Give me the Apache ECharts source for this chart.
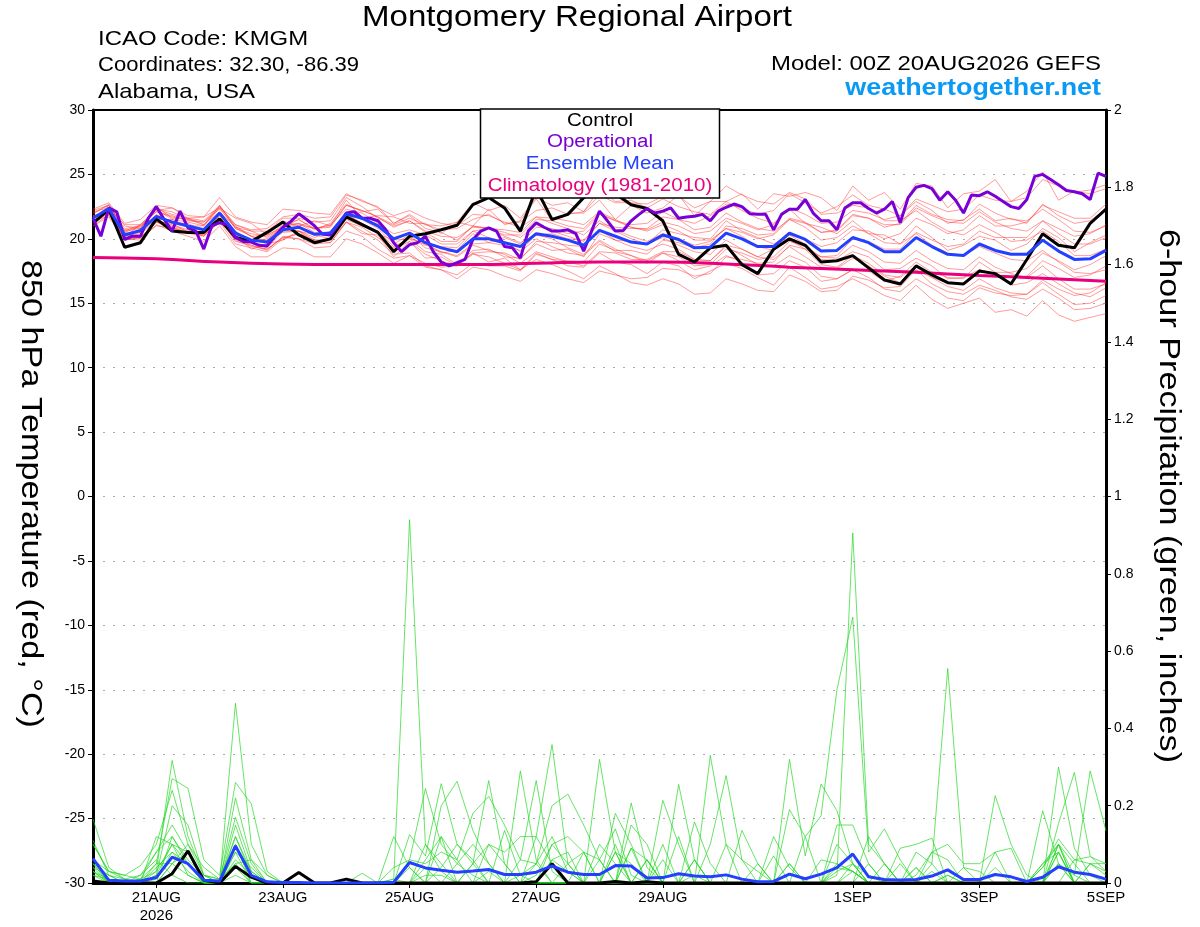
<!DOCTYPE html>
<html>
<head>
<meta charset="utf-8">
<title>Montgomery Regional Airport - GEFS</title>
<script src="https://cdn.jsdelivr.net/npm/echarts@6/dist/echarts.min.js"></script>
<style>
    html, body { margin: 0; padding: 0; background: #fff; }
    #chart { width: 1200px; height: 927px; }
</style>
</head>
<body>
<div id="chart"></div>
<script>
/* ============================================================
   GEFS meteogram - 850 hPa temperature + 6-hour precipitation
   ============================================================ */

// 时间轴：00Z 20AUG2026 起，3 小时一格（129 格）
const RUN_START = Date.UTC(2026, 7, 20, 0);
const STEPS_3H = 129;
const MONTHS = ['JAN', 'FEB', 'MAR', 'APR', 'MAY', 'JUN', 'JUL', 'AUG', 'SEP', 'OCT', 'NOV', 'DEC'];
const xTickLabels = ['21AUG', '23AUG', '25AUG', '27AUG', '29AUG', '1SEP', '3SEP', '5SEP'];
const yearLabel = '2026';

// 温度 (°C)，6 小时一个值
const tempCtrl = [21.2, 22.3, 19.35, 19.7, 21.55, 20.6, 20.5, 20.5,
    21.55, 20.1, 19.8, 20.5, 21.3, 20.3, 19.7, 20.0,
    21.7, 21.1, 20.5, 19.0, 20.2, 20.4, 20.7, 21.05,
    22.65, 23.2, 22.4, 20.6, 23.9, 21.5, 21.9, 23.2,
    23.8, 23.5, 22.65, 22.35, 21.4, 18.8, 18.2, 19.3,
    19.5, 18.0, 17.3, 19.2, 20.0, 19.5, 18.2, 18.3,
    18.7, 17.75, 16.8, 16.5, 17.9, 17.2, 16.6, 16.5,
    17.5, 17.3, 16.5, 18.4, 20.4, 19.5, 19.3, 21.2,
    22.3];

const tempMean = [21.6, 22.35, 20.3, 20.65, 21.75, 21.3, 21.0, 20.7,
    22.0, 20.45, 19.9, 19.75, 20.7, 20.9, 20.35, 20.45,
    21.95, 21.6, 21.0, 20.0, 20.45, 19.7, 19.3, 19.0,
    20.0, 20.0, 19.7, 19.4, 20.4, 20.2, 19.9, 19.5,
    20.65, 20.2, 19.75, 19.6, 20.3, 19.95, 19.3, 19.35,
    20.45, 20.0, 19.4, 19.4, 20.45, 19.95, 19.05, 19.1,
    20.1, 19.7, 19.0, 19.0, 20.1, 19.4, 18.8, 18.7,
    19.6, 19.1, 18.8, 18.8, 19.9, 19.05, 18.4, 18.45,
    19.1];

// 业务模式 (GFS) 为 3 小时一个值
const tempOper = [21.6, 20.2, 22.4, 22.1, 19.95, 20.2, 20.2, 21.6,
    22.5, 21.5, 20.6, 22.15, 20.85, 20.6, 19.2, 21.0,
    21.25, 21.1, 20.1, 19.8, 19.75, 19.5, 19.45, 20.2,
    20.9, 21.35, 21.95, 21.5, 21.0, 20.35, 20.3, 21.1,
    22.0, 22.1, 21.6, 21.6, 21.4, 20.7, 19.7, 19.0,
    19.55, 19.7, 20.2, 19.0, 18.2, 17.9, 18.15, 18.4,
    19.95, 20.6, 20.85, 20.6, 19.4, 19.3, 18.5, 20.6,
    21.25, 20.9, 20.6, 20.6, 20.7, 20.4, 19.05, 20.6,
    22.15, 21.4, 20.6, 20.65, 21.4, 21.9, 22.35, 22.0,
    22.15, 22.4, 21.6, 21.7, 21.75, 21.9, 21.4, 22.15,
    22.45, 22.7, 22.5, 21.95, 21.9, 21.9, 20.7, 21.9,
    22.3, 22.3, 23.05, 22.0, 21.4, 21.4, 20.7, 22.4,
    22.8, 22.8, 22.35, 22.0, 22.3, 22.9, 21.25, 23.2,
    24.0, 24.15, 23.9, 23.0, 23.65, 23.0, 22.0, 23.4,
    23.35, 23.65, 23.3, 22.9, 22.5, 22.35, 23.05, 24.85,
    25.0, 24.6, 24.2, 23.75, 23.65, 23.5, 23.05, 25.1,
    24.85];

// 气候值 (1981-2010)，每日一个值
const tempClim = [18.55, 18.45, 18.2, 18.05, 18.0, 18.0, 18.0, 18.1,
    18.2, 18.2, 18.05, 17.8, 17.6, 17.4, 17.15, 16.95, 16.7];

// 集合成员温度
const tempMembers = [
    [22.1, 22.4, 21.1, 21.1, 22.2, 22.4, 21.6, 21.7, 22.4, 21.6, 21.2, 20.3, 21.4, 21.0, 21.4, 21.0,
     23.0, 21.6, 21.8, 21.7, 21.2, 21.2, 20.4, 21.3, 21.0, 22.3, 21.1, 21.4, 23.1, 21.4, 22.0, 22.0,
     23.0, 21.5, 22.6, 22.0, 22.4, 23.4, 21.8, 22.9, 22.9, 23.5, 22.3, 23.5, 23.3, 23.6, 23.2, 22.2,
     24.1, 23.0, 23.6, 22.3, 24.3, 24.1, 22.4, 23.5, 23.7, 24.6, 22.9, 23.7, 25.2, 23.0, 23.7, 23.5, 23.9],
    [21.2, 22.0, 20.4, 20.0, 21.3, 21.2, 20.5, 20.6, 21.2, 20.3, 19.2, 19.6, 19.9, 20.6, 19.7, 19.9,
     21.3, 20.4, 20.3, 18.6, 19.8, 18.5, 18.6, 17.9, 18.9, 18.2, 18.5, 17.6, 18.9, 18.4, 17.9, 17.8,
     18.9, 18.2, 18.0, 17.3, 18.2, 17.9, 16.9, 17.5, 18.1, 17.7, 17.0, 16.4, 17.8, 17.0, 16.1, 16.3,
     16.9, 16.3, 15.6, 15.2, 16.4, 15.3, 14.6, 15.0, 15.4, 14.3, 14.5, 14.0, 15.2, 14.1, 13.6, 13.9, 14.2],
    [22.2, 22.6, 21.0, 20.8, 22.5, 21.6, 21.6, 21.1, 22.1, 20.9, 20.2, 20.3, 20.9, 21.5, 20.7, 21.2,
     22.7, 22.1, 22.3, 21.2, 21.9, 21.1, 21.0, 21.3, 22.8, 22.2, 22.6, 21.6, 23.2, 22.6, 22.8, 22.1,
     23.9, 22.9, 23.0, 22.4, 23.1, 22.5, 22.1, 21.9, 22.9, 22.2, 21.6, 21.2, 22.3, 21.2, 20.9, 20.4,
     21.4, 20.4, 20.3, 19.6, 21.0, 20.1, 19.1, 19.5, 20.2, 19.9, 19.1, 19.6, 20.8, 20.1, 19.0, 19.7, 20.3],
    [21.0, 21.9, 19.9, 20.1, 21.0, 20.9, 20.4, 20.3, 21.3, 19.6, 19.3, 19.0, 20.0, 20.4, 19.9, 20.0,
     21.9, 21.2, 20.4, 19.9, 20.0, 19.6, 18.9, 19.1, 20.4, 19.7, 20.1, 19.6, 20.9, 20.8, 20.4, 20.6,
     21.9, 21.4, 21.1, 21.2, 22.1, 21.5, 21.2, 21.8, 22.7, 22.4, 21.9, 22.2, 23.5, 22.8, 22.0, 22.5,
     23.4, 22.6, 22.3, 21.8, 22.9, 22.2, 21.2, 21.5, 22.3, 21.4, 21.6, 21.2, 22.7, 21.8, 21.2, 21.4, 22.3],
    [21.5, 22.6, 20.6, 20.8, 22.3, 21.5, 21.3, 21.0, 22.6, 20.8, 20.2, 19.6, 20.7, 20.6, 20.3, 20.0,
     21.9, 21.2, 20.6, 19.4, 20.0, 19.0, 18.8, 18.0, 19.1, 19.2, 18.6, 18.5, 19.6, 19.1, 19.2, 18.6,
     20.4, 19.9, 19.8, 19.6, 20.7, 20.4, 20.1, 20.0, 21.4, 20.6, 20.1, 19.6, 20.3, 19.6, 18.4, 18.3,
     19.0, 18.6, 17.6, 17.7, 18.5, 17.9, 16.9, 17.0, 17.6, 17.3, 16.4, 16.6, 17.3, 16.5, 15.8, 15.5, 16.2],
    [21.8, 22.2, 20.5, 21.0, 21.7, 21.4, 20.9, 20.7, 21.6, 20.3, 19.7, 19.3, 20.6, 20.6, 20.1, 20.6,
     21.8, 21.6, 21.1, 20.4, 20.7, 20.3, 19.6, 19.6, 20.6, 20.1, 19.8, 19.0, 20.0, 19.4, 18.9, 18.7,
     19.8, 19.0, 18.7, 18.1, 18.9, 18.3, 17.6, 17.9, 18.7, 18.2, 17.2, 17.3, 18.3, 17.8, 16.7, 16.9,
     17.6, 17.5, 16.7, 17.1, 18.2, 17.4, 17.0, 16.9, 18.2, 17.4, 17.4, 17.7, 18.9, 18.3, 17.6, 18.0, 18.7],
    [21.3, 22.1, 20.0, 20.7, 21.5, 21.5, 21.0, 21.0, 22.4, 20.8, 20.4, 20.2, 21.1, 21.5, 20.8, 21.1,
     22.3, 22.0, 21.2, 20.1, 20.4, 19.6, 19.0, 18.6, 19.5, 19.1, 18.8, 18.1, 19.0, 18.6, 18.2, 17.9,
     19.0, 18.9, 18.4, 18.4, 19.0, 19.0, 18.4, 18.3, 19.5, 19.2, 18.6, 19.2, 20.3, 20.0, 19.4, 19.7,
     20.7, 20.6, 20.0, 20.4, 21.6, 21.1, 20.4, 20.7, 21.8, 21.0, 21.0, 21.3, 22.6, 22.1, 21.6, 21.6, 22.7],
    [22.3, 22.8, 21.2, 21.5, 22.6, 22.4, 21.8, 21.7, 23.2, 21.7, 21.3, 21.1, 22.3, 22.2, 22.0, 21.9,
     23.5, 22.9, 22.5, 21.2, 21.8, 20.8, 20.5, 19.9, 21.0, 20.8, 20.5, 20.1, 21.1, 20.6, 20.2, 19.8,
     21.2, 20.6, 20.0, 19.6, 20.1, 19.5, 19.0, 18.8, 19.9, 19.2, 18.6, 18.4, 19.4, 18.6, 17.8, 17.7,
     18.5, 17.9, 17.1, 16.6, 17.6, 16.5, 15.9, 15.7, 16.4, 16.0, 15.5, 15.3, 16.1, 15.4, 14.5, 14.6, 15.0],
    [21.0, 21.7, 19.9, 20.1, 21.3, 20.9, 20.5, 20.4, 21.8, 20.1, 19.5, 19.1, 20.2, 20.0, 19.3, 19.4,
     20.6, 20.2, 19.2, 18.5, 18.7, 17.8, 17.6, 17.2, 18.1, 17.9, 17.9, 17.5, 18.8, 18.4, 18.3, 18.2,
     19.6, 19.1, 19.1, 18.8, 19.9, 19.7, 19.3, 19.6, 21.0, 20.8, 20.3, 20.4, 21.6, 21.3, 20.5, 20.6,
     21.8, 21.6, 20.9, 21.2, 22.6, 21.9, 21.5, 21.4, 22.7, 22.0, 21.5, 21.4, 22.3, 21.5, 20.6, 20.5, 21.0],
    [21.7, 22.2, 20.5, 20.5, 21.9, 21.2, 21.2, 20.6, 21.8, 20.6, 19.8, 20.0, 20.9, 21.1, 20.8, 20.9,
     22.6, 22.2, 21.7, 21.1, 21.6, 21.1, 20.7, 20.8, 21.5, 21.9, 21.2, 21.3, 22.2, 22.4, 21.9, 22.1,
     23.4, 22.8, 22.8, 22.7, 23.3, 23.3, 22.4, 22.9, 24.1, 23.4, 22.9, 22.7, 23.6, 23.1, 21.9, 22.0,
     22.6, 22.4, 21.4, 21.4, 22.2, 21.3, 20.6, 20.3, 21.1, 20.5, 19.8, 19.9, 20.6, 19.8, 18.7, 18.7, 19.2],
    [21.4, 22.0, 20.0, 19.9, 21.1, 20.6, 20.2, 19.8, 21.0, 19.4, 18.6, 18.6, 19.3, 19.2, 18.6, 18.6,
     20.0, 19.6, 18.9, 18.1, 18.7, 18.1, 17.8, 17.9, 18.9, 19.0, 18.9, 18.4, 19.8, 19.7, 19.5, 19.4,
     20.7, 19.9, 19.4, 19.1, 19.6, 19.2, 18.4, 18.3, 19.4, 18.7, 18.0, 17.9, 18.7, 18.2, 17.1, 16.9,
     17.6, 17.0, 16.1, 15.9, 16.9, 16.2, 15.4, 15.2, 16.2, 15.8, 15.6, 15.7, 16.8, 16.1, 15.6, 15.8, 16.6],
    [22.0, 22.6, 20.8, 21.0, 22.1, 21.8, 21.4, 21.3, 22.3, 21.0, 20.2, 19.8, 20.5, 20.6, 19.9, 19.7,
     21.3, 20.6, 19.9, 18.8, 18.9, 17.9, 17.6, 16.9, 17.8, 17.6, 17.1, 16.7, 17.6, 17.3, 16.9, 16.6,
     17.5, 17.2, 16.9, 17.0, 17.7, 17.6, 17.1, 17.3, 18.6, 18.4, 18.1, 18.2, 19.5, 19.2, 18.6, 18.7,
     20.0, 19.8, 19.2, 19.2, 20.5, 19.9, 19.4, 19.6, 20.6, 20.1, 20.1, 20.1, 21.4, 20.8, 20.2, 20.4, 21.1],
    [21.2, 22.4, 20.2, 21.1, 22.3, 22.1, 21.5, 21.3, 22.5, 21.1, 20.6, 20.6, 21.6, 21.6, 21.3, 21.4,
     23.2, 22.5, 21.6, 21.0, 21.4, 20.5, 19.8, 19.8, 21.0, 20.8, 20.3, 20.3, 21.5, 21.4, 21.0, 20.8,
     22.0, 21.4, 20.9, 20.7, 21.3, 21.0, 20.4, 20.6, 21.6, 21.2, 20.7, 21.1, 22.4, 21.9, 21.2, 21.3,
     22.2, 22.0, 21.5, 21.8, 23.1, 22.6, 22.1, 22.3, 23.4, 23.0, 22.9, 23.2, 24.6, 24.1, 23.6, 23.8, 24.2],
    [21.8, 22.0, 20.1, 20.4, 21.4, 21.1, 20.7, 20.2, 21.3, 20.2, 19.9, 19.9, 21.0, 21.2, 20.8, 21.0,
     22.6, 22.2, 21.7, 20.9, 21.4, 20.6, 20.2, 20.1, 20.9, 20.8, 20.2, 19.7, 20.3, 20.0, 19.3, 18.8,
     19.9, 19.2, 18.7, 18.3, 18.9, 18.6, 17.9, 18.0, 19.2, 18.9, 18.4, 18.6, 19.8, 19.4, 18.6, 18.5,
     19.5, 19.0, 18.2, 18.1, 19.1, 18.3, 17.7, 17.6, 18.6, 17.8, 17.3, 17.0, 17.9, 16.9, 16.1, 16.1, 16.5],
    [21.4, 22.1, 20.7, 20.9, 22.3, 21.9, 21.6, 21.4, 22.6, 20.9, 20.6, 20.1, 21.0, 21.2, 20.5, 20.4,
     22.0, 21.5, 20.8, 19.6, 20.3, 19.3, 19.0, 18.7, 19.6, 19.7, 19.5, 19.1, 20.3, 20.4, 20.0, 19.9,
     21.2, 20.9, 20.8, 20.8, 21.7, 21.5, 20.7, 20.9, 22.0, 21.3, 20.8, 20.6, 21.5, 20.9, 19.9, 20.1,
     21.0, 20.4, 19.7, 19.6, 20.4, 19.5, 18.9, 18.7, 19.4, 18.9, 18.4, 18.3, 19.1, 18.2, 17.4, 17.3, 17.6],
    [21.7, 22.1, 20.2, 20.5, 21.5, 21.0, 20.6, 20.3, 21.6, 19.9, 19.4, 19.2, 20.1, 20.0, 19.6, 19.7,
     21.3, 20.9, 20.1, 19.3, 20.1, 19.5, 19.4, 19.3, 20.6, 20.8, 20.7, 20.5, 21.7, 21.6, 21.4, 21.1,
     22.1, 21.5, 20.9, 20.6, 21.1, 20.6, 19.9, 19.9, 20.8, 20.2, 19.4, 19.1, 19.9, 19.2, 18.0, 17.8,
     18.7, 18.1, 17.2, 17.0, 17.9, 17.0, 16.3, 16.0, 16.9, 16.2, 15.8, 15.7, 16.6, 15.7, 14.9, 15.0, 15.6],
    [21.9, 22.7, 20.6, 21.1, 22.1, 21.7, 21.5, 21.1, 22.5, 21.1, 20.7, 20.8, 21.7, 21.9, 21.6, 21.7,
     23.4, 23.0, 22.4, 21.8, 22.2, 21.6, 21.2, 21.0, 21.9, 21.8, 21.3, 20.9, 21.7, 21.2, 20.8, 20.3,
     21.4, 20.7, 20.2, 19.8, 20.4, 20.0, 19.5, 19.8, 20.8, 20.5, 20.0, 20.3, 21.5, 21.2, 20.5, 20.7,
     21.9, 21.6, 21.1, 21.1, 22.4, 21.8, 21.3, 21.2, 22.1, 21.3, 20.8, 20.6, 21.4, 20.4, 19.6, 19.6, 20.1],
    [21.3, 21.8, 20.1, 20.1, 21.3, 20.8, 20.5, 20.2, 21.5, 19.8, 19.5, 19.2, 20.1, 20.4, 19.8, 20.0,
     21.5, 21.0, 20.5, 19.2, 19.8, 18.8, 18.3, 17.9, 18.8, 18.6, 18.1, 17.6, 18.4, 18.0, 17.5, 16.9,
     17.9, 17.3, 16.6, 16.4, 16.9, 16.5, 15.7, 15.8, 16.9, 16.5, 16.0, 15.9, 17.2, 16.7, 15.9, 16.0,
     17.1, 16.8, 16.2, 16.3, 17.6, 17.0, 16.6, 16.5, 17.6, 17.2, 17.0, 17.1, 18.3, 17.7, 17.0, 17.2, 17.9]
];

// 6 小时降水 (inches)
const precCtrl = [0.005, 0, 0, 0, 0, 0.024, 0.083, 0.007,
    0, 0.043, 0.015, 0, 0, 0.027, 0, 0,
    0.01, 0, 0, 0, 0, 0, 0, 0,
    0, 0, 0, 0, 0.003, 0.05, 0, 0,
    0, 0.004, 0, 0.003, 0, 0, 0, 0,
    0, 0, 0, 0, 0, 0, 0, 0,
    0, 0, 0, 0, 0, 0, 0, 0,
    0, 0, 0, 0, 0, 0, 0, 0,
    0];

const precMean = [0.063, 0.007, 0.005, 0.005, 0.014, 0.067, 0.05, 0.007,
    0.005, 0.096, 0.02, 0.003, 0.001, 0.001, 0, 0,
    0, 0, 0, 0.002, 0.053, 0.039, 0.033, 0.028,
    0.031, 0.035, 0.022, 0.022, 0.028, 0.044, 0.028, 0.022,
    0.022, 0.045, 0.044, 0.013, 0.014, 0.024, 0.018, 0.016,
    0.021, 0.01, 0.003, 0.004, 0.023, 0.011, 0.023, 0.04,
    0.075, 0.016, 0.009, 0.008, 0.009, 0.018, 0.034, 0.009,
    0.009, 0.022, 0.016, 0.004, 0.015, 0.042, 0.028, 0.022,
    0.01];

const precMembers = [
    [0.165, 0.04, 0.01, 0, 0.03, 0.317, 0.12, 0.02, 0, 0.465, 0.1, 0.02, 0, 0, 0, 0,
     0, 0, 0, 0.01, 0.94, 0.1, 0.03, 0, 0, 0, 0, 0.02, 0.05, 0.12, 0.03, 0,
     0, 0, 0.09, 0, 0, 0, 0.02, 0, 0, 0, 0, 0, 0, 0, 0, 0.02,
     0.906, 0.1, 0.05, 0, 0, 0, 0.02, 0, 0, 0, 0, 0, 0.04, 0.1, 0.02, 0, 0],
    [0.11, 0.02, 0, 0.01, 0.05, 0.27, 0.245, 0.06, 0.02, 0.26, 0.205, 0.03, 0, 0, 0, 0,
     0, 0, 0, 0, 0.06, 0.244, 0.1, 0.05, 0.02, 0, 0.136, 0.02, 0, 0, 0, 0,
     0.06, 0.14, 0.02, 0, 0, 0.255, 0.06, 0, 0, 0, 0, 0.12, 0.04, 0, 0, 0.03,
     0.05, 0.02, 0, 0, 0.08, 0.05, 0.555, 0.04, 0, 0, 0, 0, 0, 0.3, 0.09, 0.02, 0],
    [0.1, 0.03, 0.02, 0.045, 0.1, 0.24, 0.1, 0.02, 0, 0.22, 0.06, 0, 0, 0, 0, 0,
     0, 0.025, 0, 0, 0.125, 0.07, 0.257, 0.1, 0.05, 0.265, 0.05, 0, 0, 0.06, 0.03, 0,
     0, 0, 0.207, 0.04, 0, 0, 0, 0.33, 0.1, 0, 0, 0, 0.32, 0.07, 0.256, 0.187,
     0.05, 0, 0, 0, 0, 0.03, 0, 0, 0, 0.226, 0.1, 0.02, 0, 0, 0, 0.05, 0.02],
    [0.06, 0.01, 0, 0, 0.02, 0.2, 0.15, 0.02, 0.01, 0.17, 0.05, 0, 0, 0, 0, 0,
     0, 0, 0, 0.12, 0.04, 0, 0.2, 0.263, 0.136, 0.05, 0, 0.29, 0.06, 0, 0, 0,
     0.32, 0.08, 0, 0, 0.1, 0, 0, 0, 0, 0.136, 0.05, 0, 0.19, 0.12, 0.174, 0.5,
     0.688, 0.08, 0.14, 0.06, 0, 0, 0, 0, 0, 0, 0, 0, 0.187, 0.05, 0.02, 0.29, 0.135],
    [0.05, 0, 0, 0.02, 0.08, 0.15, 0.08, 0, 0, 0.15, 0.03, 0, 0, 0, 0, 0,
     0, 0, 0, 0.04, 0.06, 0.05, 0.08, 0.06, 0.18, 0.224, 0.15, 0.06, 0.265, 0.03, 0, 0,
     0, 0.18, 0.1, 0, 0, 0, 0.158, 0.05, 0, 0, 0, 0, 0, 0, 0, 0.15,
     0.15, 0.05, 0, 0.09, 0.1, 0.116, 0, 0, 0, 0, 0, 0, 0, 0.154, 0.286, 0.07, 0.03],
    [0.04, 0, 0, 0, 0, 0.12, 0.05, 0, 0, 0.12, 0.02, 0, 0, 0, 0, 0,
     0, 0, 0, 0, 0, 0, 0.12, 0, 0, 0.1, 0.08, 0.12, 0.12, 0.358, 0.05, 0,
     0.1, 0.05, 0, 0, 0.214, 0.1, 0, 0, 0, 0, 0, 0, 0.05, 0, 0, 0.05,
     0.03, 0, 0, 0, 0, 0.08, 0.1, 0.05, 0.05, 0.08, 0.09, 0, 0.04, 0.114, 0.06, 0.068, 0.05],
    [0.03, 0, 0, 0.01, 0.03, 0.1, 0.08, 0, 0, 0.1, 0, 0, 0, 0, 0, 0,
     0, 0, 0, 0, 0, 0.1, 0.05, 0, 0, 0, 0, 0.06, 0.05, 0.2, 0.23, 0.15,
     0.06, 0, 0.15, 0.1, 0, 0.12, 0, 0.1, 0.278, 0.06, 0, 0.07, 0, 0, 0, 0,
     0, 0.12, 0.05, 0, 0.04, 0, 0, 0, 0, 0, 0, 0, 0.05, 0.1, 0, 0, 0],
    [0.02, 0.01, 0, 0, 0.01, 0.08, 0.05, 0, 0, 0.08, 0, 0, 0, 0, 0, 0,
     0, 0, 0, 0, 0.04, 0, 0, 0, 0.05, 0.1, 0.05, 0, 0.02, 0.1, 0.12, 0.08,
     0, 0, 0.09, 0.06, 0, 0, 0, 0, 0.1, 0.06, 0.03, 0, 0, 0, 0.06, 0.05,
     0.03, 0, 0.05, 0, 0.02, 0.08, 0.06, 0, 0, 0.08, 0, 0, 0, 0.08, 0, 0.05, 0.03],
    [0.06, 0.03, 0.01, 0, 0.05, 0.05, 0.02, 0, 0, 0.05, 0, 0, 0, 0, 0, 0,
     0, 0, 0, 0, 0, 0, 0.04, 0.1, 0.06, 0, 0, 0, 0, 0.06, 0.08, 0,
     0, 0.1, 0, 0, 0, 0, 0.06, 0, 0, 0, 0, 0, 0, 0, 0, 0,
     0.05, 0, 0, 0, 0, 0, 0, 0, 0, 0, 0, 0, 0, 0.05, 0, 0, 0],
    [0.03, 0, 0, 0, 0.12, 0.1, 0.02, 0, 0, 0.04, 0, 0, 0, 0, 0, 0,
     0, 0, 0, 0, 0, 0.04, 0, 0, 0, 0, 0, 0, 0, 0, 0, 0.08,
     0, 0, 0, 0, 0, 0, 0, 0, 0, 0, 0.05, 0, 0, 0, 0, 0,
     0.03, 0, 0, 0, 0, 0, 0, 0.04, 0.03, 0, 0, 0, 0, 0, 0, 0, 0],
    [0.02, 0, 0, 0, 0, 0.05, 0.1, 0.04, 0.01, 0.05, 0.06, 0.02, 0, 0, 0, 0,
     0, 0, 0, 0, 0, 0, 0, 0, 0, 0, 0, 0, 0.12, 0.05, 0, 0,
     0, 0, 0, 0.06, 0, 0, 0, 0, 0, 0, 0, 0, 0, 0.12, 0, 0,
     0, 0, 0, 0.05, 0, 0, 0, 0, 0, 0, 0, 0, 0, 0.08, 0, 0, 0],
    [0.05, 0.02, 0.01, 0.02, 0.06, 0.02, 0, 0, 0, 0.02, 0, 0, 0, 0, 0, 0,
     0, 0, 0, 0.01, 0, 0.02, 0.02, 0, 0, 0.03, 0, 0, 0, 0, 0, 0,
     0, 0, 0, 0, 0, 0, 0, 0, 0, 0, 0, 0, 0, 0, 0, 0.04,
     0.03, 0, 0, 0, 0, 0, 0.02, 0, 0, 0, 0, 0, 0, 0.05, 0, 0, 0],
    [0.04, 0.02, 0, 0, 0.02, 0.1, 0.05, 0, 0, 0.08, 0.04, 0, 0, 0, 0, 0,
     0, 0, 0, 0, 0, 0, 0, 0.05, 0.1, 0.05, 0, 0, 0, 0.1, 0.05, 0,
     0, 0.08, 0.05, 0, 0, 0, 0, 0, 0, 0, 0, 0, 0, 0, 0, 0.1,
     0.05, 0, 0, 0, 0, 0, 0, 0, 0, 0, 0, 0, 0, 0.1, 0.05, 0, 0],
    [0.03, 0.01, 0, 0, 0.04, 0.08, 0.03, 0, 0, 0.1, 0.02, 0, 0, 0, 0, 0,
     0, 0, 0, 0, 0, 0, 0, 0, 0, 0, 0, 0, 0, 0, 0, 0,
     0, 0, 0, 0, 0.06, 0, 0, 0, 0, 0, 0, 0, 0.05, 0, 0, 0,
     0, 0, 0, 0, 0, 0, 0, 0, 0, 0.04, 0, 0, 0, 0.1, 0, 0, 0],
    [0.1, 0.03, 0.02, 0.01, 0.08, 0.12, 0.06, 0.02, 0.01, 0.12, 0.03, 0, 0, 0, 0, 0,
     0, 0, 0, 0, 0, 0.06, 0.12, 0.06, 0, 0, 0, 0, 0, 0, 0.05, 0.08,
     0.06, 0, 0, 0, 0, 0, 0, 0, 0, 0, 0, 0, 0, 0, 0, 0,
     0, 0, 0, 0, 0, 0.05, 0, 0, 0, 0, 0, 0, 0, 0, 0.06, 0.05, 0.05],
    [0.05, 0, 0, 0, 0, 0.05, 0.08, 0, 0, 0.06, 0.02, 0, 0, 0, 0, 0,
     0, 0, 0, 0, 0, 0, 0, 0, 0.05, 0, 0, 0, 0.05, 0, 0, 0,
     0, 0.08, 0, 0.06, 0, 0, 0.06, 0, 0, 0, 0, 0, 0, 0, 0, 0,
     0, 0.05, 0, 0, 0.04, 0, 0, 0, 0, 0, 0, 0, 0.05, 0.08, 0, 0, 0]
];

// 颜色
const COLORS = {
    ctrl: '#000000',
    oper: '#7800d7',
    mean: '#2440ff',
    clim: '#e8007c',
    tempMember: 'rgba(255, 45, 45, 0.6)',
    precMember: 'rgba(30, 215, 30, 0.85)',
    site: '#0a9af5'
};

const FONT = '"Liberation Sans", Arial, Helvetica, sans-serif';
const STRETCH = 1.14;   // 参考图字体略宽

// 把 6 小时 / 24 小时数据铺到 3 小时类目轴上
function spread(values, step) {
    const out = new Array(STEPS_3H).fill(null);
    values.forEach((v, i) => { out[i * step] = v; });
    return out;
}

function buildCategories() {
    const cats = [];
    for (let k = 0; k < STEPS_3H; k++) {
        const d = new Date(RUN_START + k * 3 * 3600 * 1000);
        const name = d.getUTCDate() + MONTHS[d.getUTCMonth()];
        const hour = d.getUTCHours();
        cats.push(hour === 0 ? name : name + ' ' + String(hour).padStart(2, '0') + 'Z');
    }
    return cats;
}

function lineSeries(name, data, color, width, yAxisIndex, z) {
    return {
        name,
        type: 'line',
        data,
        yAxisIndex,
        symbol: 'none',
        connectNulls: true,
        silent: true,
        z,
        lineStyle: { color, width }
    };
}

function text(str, x, y, opts = {}) {
    return {
        type: 'text',
        x,
        y,
        z: 100,
        scaleX: opts.scaleX || STRETCH,
        rotation: opts.rotation || 0,
        style: {
            text: str,
            fill: opts.color || '#000',
            font: `${opts.weight || 'normal'} ${opts.size || 21}px ${FONT}`,
            textAlign: opts.align || 'left',
            textVerticalAlign: 'middle'
        }
    };
}

const chart = echarts.init(document.getElementById('chart'), null, { renderer: 'canvas' });
const categories = buildCategories();

const series = [];
precMembers.forEach((m, i) => series.push(lineSeries('precip member ' + (i + 1), spread(m, 2), COLORS.precMember, 0.8, 1, 2)));
tempMembers.forEach((m, i) => series.push(lineSeries('temp member ' + (i + 1), spread(m, 2), COLORS.tempMember, 0.8, 0, 3)));
series.push(Object.assign(lineSeries('Climatology (1981-2010)', spread(tempClim, 8), COLORS.clim, 3, 0, 5), { smooth: true }));
series.push(lineSeries('Control', spread(tempCtrl, 2), COLORS.ctrl, 3, 0, 6));
series.push(lineSeries('Control precip', spread(precCtrl, 2), COLORS.ctrl, 3, 1, 6));
series.push(lineSeries('Operational', tempOper, COLORS.oper, 3, 0, 7));
series.push(lineSeries('Ensemble Mean', spread(tempMean, 2), COLORS.mean, 3, 0, 8));
series.push(lineSeries('Ensemble Mean precip', spread(precMean, 2), COLORS.mean, 3, 1, 8));

const showTick = (idx, val) => xTickLabels.includes(val);

const option = {
    animation: false,
    backgroundColor: '#fff',
    textStyle: { fontFamily: FONT },
    grid: { left: 93, right: 94, top: 110, bottom: 44 },
    xAxis: [
        {
            type: 'category',
            data: categories,
            boundaryGap: false,
            axisLine: { onZero: false, lineStyle: { color: '#000', width: 3 } },
            axisTick: { interval: showTick, length: 5, lineStyle: { color: '#000', width: 1 } },
            axisLabel: {
                interval: showTick,
                formatter: val => val === xTickLabels[0] ? val + '\n' + yearLabel : val,
                color: '#000',
                fontSize: 15,
                lineHeight: 18,
                margin: 6
            },
            splitLine: { show: false }
        },
        {
            // 顶部边框
            type: 'category',
            data: categories,
            position: 'top',
            boundaryGap: false,
            z: 10,
            axisLine: { onZero: false, lineStyle: { color: '#000', width: 2 } },
            axisTick: { show: false },
            axisLabel: { show: false },
            splitLine: { show: false }
        }
    ],
    yAxis: [
        {
            type: 'value',
            min: -30,
            max: 30,
            interval: 5,
            axisLine: { show: true, lineStyle: { color: '#000', width: 3 } },
            axisTick: { show: true, length: 5, lineStyle: { color: '#000' } },
            axisLabel: { color: '#000', fontSize: 14, margin: 8 },
            splitLine: { show: true, lineStyle: { color: '#aaa', type: [2, 8], width: 1 } }
        },
        {
            type: 'value',
            min: 0,
            max: 2,
            interval: 0.2,
            position: 'right',
            axisLine: { show: true, lineStyle: { color: '#000', width: 3 } },
            axisTick: { show: true, length: 5, lineStyle: { color: '#000' } },
            axisLabel: { color: '#000', fontSize: 14, margin: 8 },
            splitLine: { show: false }
        }
    ],
    graphic: [
        text('Montgomery Regional Airport', 577, 18, { size: 29, align: 'center' }),
        text('ICAO Code: KMGM', 98, 39),
        text('Coordinates: 32.30, -86.39', 98, 65, { scaleX: 1.05 }),
        text('Alabama, USA', 98, 92),
        text('Model: 00Z 20AUG2026 GEFS', 1101, 64, { align: 'right' }),
        text('weathertogether.net', 1101, 89, { align: 'right', weight: 'bold', size: 23, scaleX: 1.17, color: COLORS.site }),
        // 图例框
        {
            type: 'rect',
            z: 99,
            shape: { x: 480.5, y: 109, width: 239, height: 89 },
            style: { fill: '#fff', stroke: '#000', lineWidth: 1.5 }
        },
        text('Control', 600, 121, { size: 18, align: 'center', color: COLORS.ctrl }),
        text('Operational', 600, 142, { size: 18, align: 'center', color: COLORS.oper }),
        text('Ensemble Mean', 600, 164, { size: 18, align: 'center', color: COLORS.mean }),
        text('Climatology (1981-2010)', 600, 186, { size: 18, align: 'center', color: COLORS.clim }),
        // 坐标轴标题（两侧都是自上而下阅读）
        text('850 hPa Temperature (red, °C)', 30, 494, { size: 30, align: 'center', rotation: -Math.PI / 2 }),
        text('6-hour Precipitation (green, inches)', 1168, 496, { size: 30, align: 'center', rotation: -Math.PI / 2 })
    ],
    series
};

chart.setOption(option);
window.addEventListener('resize', () => chart.resize());
</script>
</body>
</html>
